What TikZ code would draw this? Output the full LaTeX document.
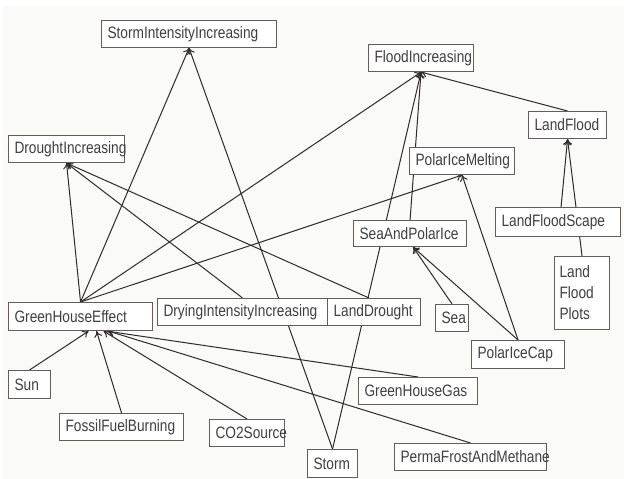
\documentclass[tikz,border=0pt]{standalone}
\usepackage{fontspec}
\setmainfont{Liberation Sans}[FakeStretch=0.83]
\usetikzlibrary{positioning, arrows.meta, backgrounds}
\definecolor{boxline}{HTML}{675C58}
\definecolor{textgray}{HTML}{404040}
\definecolor{linkgray}{HTML}{302A2A}
\definecolor{canvas}{HTML}{FAFAF8}
\hyphenpenalty=10000
\exhyphenpenalty=10000

\begin{document}
\begin{tikzpicture}[
  x=1pt, y=-1pt,
  conceptbox/.style={draw=boxline, fill=white, line width=1.1pt, anchor=north west,
    inner xsep=6pt, inner ysep=0pt, minimum height=27pt, align=left,
    text=textgray, font=\fontsize{16.5}{21}\selectfont},
  link/.style={-{To[length=6pt,width=8pt]}, line width=1pt, draw=linkgray}
]
\useasboundingbox (0,0) rectangle (624,479);

% Upper concepts
\node[conceptbox, text width=163pt] (stormint) at (101,20) {StormIntensityIncreasing};
\node[conceptbox, text width=104pt] (droughtinc) at (8,135) {DroughtIncreasing};
\node[conceptbox, text width=93pt] (floodinc) at (368,44) {FloodIncreasing};
\node[conceptbox, text width=66pt] (landflood) at (528,111) {LandFlood};
\node[conceptbox, text width=93pt] (polarmelt) at (409,147) {PolarIceMelting};
\node[conceptbox, text width=113pt, minimum height=29pt] (floodscape) at (495,207) {LandFloodScape};
\node[conceptbox, text width=101pt, minimum height=26pt] (seapolar) at (353,220) {SeaAndPolarIce};

% Middle row
\node[conceptbox, text width=132pt, minimum height=28pt] (ghe) at (8,302) {GreenHouseEffect};
\node[conceptbox, text width=158pt] (dryinginc) at (157,298) {DryingIntensityIncreasing};
\node[conceptbox, text width=81pt] (landdrought) at (327,298) {LandDrought};
\node[conceptbox, text width=21pt] (sea) at (435,304) {Sea};
\node[conceptbox, text width=45pt, minimum height=73pt, inner xsep=5pt] (floodplots) at (554,256) {Land\\Flood\\Plots};
\node[conceptbox, text width=81pt, minimum height=28pt] (polarcap) at (471,340) {PolarIceCap};

% Causes
\node[conceptbox, text width=107pt] (ghgas) at (358,377) {GreenHouseGas};
\node[conceptbox, text width=140pt] (permafrost) at (394,443) {PermaFrostAndMethane};
\node[conceptbox, text width=38pt, minimum height=28pt] (storm) at (307,449) {Storm};
\node[conceptbox, text width=30pt, minimum height=28pt] (sun) at (8,370) {Sun};
\node[conceptbox, text width=112pt] (fossil) at (59,413) {FossilFuelBurning};
\node[conceptbox, text width=63pt] (cotwo) at (209,419) {CO2Source};

\begin{pgfonlayer}{background}
\fill[white] (0,0) rectangle (624,479);
\fill[canvas] (3,6) rectangle (624,479);

% Links into GreenHouseEffect
\draw[link] (sun.north) -- ([xshift=8pt]ghe.south);
\draw[link] (fossil.north) -- ([xshift=16pt]ghe.south);
\draw[link] (cotwo.north) -- ([xshift=23pt]ghe.south);
\draw[link] (ghgas.north) -- ([xshift=26pt]ghe.south);
\draw[link] (permafrost.north) -- ([xshift=28pt]ghe.south);

% Links out of GreenHouseEffect
\draw[link] (ghe.north) -- (droughtinc.south);
\draw[link] (ghe.north) -- (stormint.south);
\draw[link] (ghe.north) -- (floodinc.south);
\draw[link] (ghe.north) -- (polarmelt.south);

% Drought, storm and flood
\draw[link] (dryinginc.north) -- (droughtinc.south);
\draw[link] ([xshift=-5pt]landdrought.north) -- (droughtinc.south);
\draw[link] (storm.north) -- (stormint.south);
\draw[link] (storm.north) -- (floodinc.south);
\draw[link] (seapolar.north) -- (floodinc.south);
\draw[link] (landflood.north) -- (floodinc.south);
\draw[link] ([xshift=3pt]floodscape.north) -- (landflood.south);
\draw[link] (floodplots.north) -- (landflood.south);

% Polar ice
\draw[link] (polarcap.north) -- (polarmelt.south);
\draw[link] (sea.north) -- ([xshift=3pt]seapolar.south);
\draw[link] (polarcap.north) -- ([xshift=3pt]seapolar.south);
\end{pgfonlayer}

\end{tikzpicture}
\end{document}
